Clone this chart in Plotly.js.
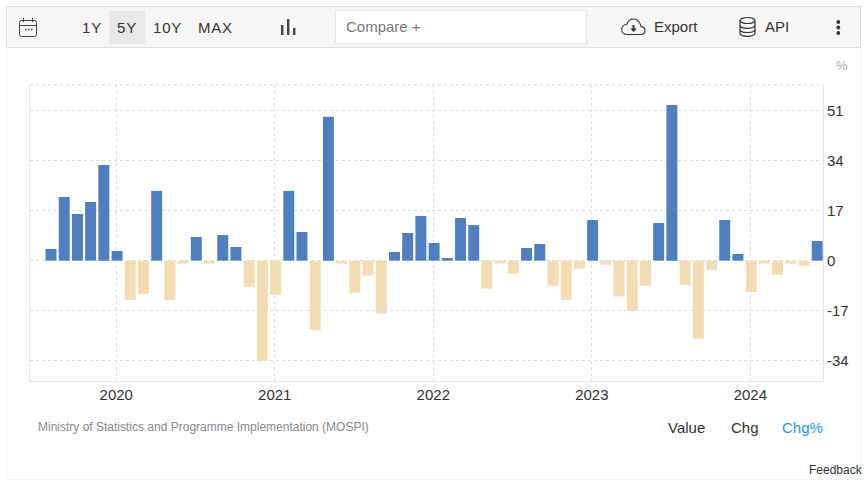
<!DOCTYPE html>
<html>
<head>
<meta charset="utf-8">
<script src="https://cdn.plot.ly/plotly-3.0.1.min.js"></script>
<style>
html,body{margin:0;padding:0;background:#fff;width:864px;height:486px;overflow:hidden;font-family:"Liberation Sans",Arial,sans-serif}
#chart{position:absolute;left:0;top:0;width:864px;height:486px}
.frame{position:absolute;left:6px;top:47px;width:853px;height:432px;border:1px solid #f2f2f2;border-top:none}
.bar{position:absolute;left:6px;top:6px;width:853px;height:40px;background:#f6f6f6;border:1px solid #dedede}
.t{position:absolute;white-space:nowrap;font-size:15px;line-height:18px;color:#333}
.hl{position:absolute;left:109px;top:11px;width:36px;height:33px;background:#e8e8e8}
.inp{position:absolute;left:335px;top:10px;width:250px;height:32px;background:#fff;border:1px solid #e6e6e6}
svg.i{position:absolute;overflow:visible}
</style>
</head>
<body>
<div class="frame"></div>
<div id="chart"></div>
<div class="bar"></div>
<div class="hl"></div>
<div class="inp"></div>
<svg class="i" style="left:19px;top:17px" width="18" height="20" fill="none" stroke="#444" stroke-width="1"><rect x="0.5" y="3.5" width="17" height="16" rx="2"/><path d="M0.5 8.5H17.5M4.5 1V5M13.5 1V5"/><path d="M6 12.5h1.5M9 12.5h1.5M12 12.5h1.5" stroke-width="1.5"/></svg>
<div class="t" style="left:82px;top:19px;letter-spacing:.8px">1Y</div>
<div class="t" style="left:117px;top:19px;letter-spacing:.8px">5Y</div>
<div class="t" style="left:153px;top:19px;letter-spacing:.8px">10Y</div>
<div class="t" style="left:198px;top:19px;letter-spacing:.8px">MAX</div>
<svg class="i" style="left:281px;top:19px" width="15" height="16" fill="#444"><rect x="0" y="6" width="2.4" height="10"/><rect x="6" y="0" width="2.4" height="16"/><rect x="12" y="9" width="2.4" height="7"/></svg>
<div class="t" style="left:346px;top:18px;color:#777">Compare +</div>
<svg class="i" style="left:621px;top:18px" width="25" height="18" fill="none" stroke="#333" stroke-width="1.1"><path d="M6 16.5H19.5C22.5 16.5 24 14.5 24 12.5C24 10.3 22.3 8.8 20 8.6C19.3 4 16 1 12.5 1C9 1 6.7 3.2 5.9 6.3C3 6.8 .7 8.9 .7 11.6C.7 14.5 3 16.5 6 16.5Z"/><path d="M12.5 7V12.5" stroke-width="2"/><path d="M9.3 10.5H15.7L12.5 14Z" fill="#333" stroke="none"/></svg>
<div class="t" style="left:654px;top:18px">Export</div>
<svg class="i" style="left:739px;top:17px" width="17" height="20" fill="none" stroke="#333" stroke-width="1.2"><ellipse cx="8.5" cy="3.5" rx="7.5" ry="3"/><path d="M1 3.5V16C1 18 4.5 19.3 8.5 19.3S16 18 16 16V3.5M1 8C1 10 4.5 11.3 8.5 11.3S16 10 16 8M1 12.2C1 14.2 4.5 15.5 8.5 15.5S16 14.2 16 12.2"/></svg>
<div class="t" style="left:765px;top:18px">API</div>
<svg class="i" style="left:836px;top:20px" width="5" height="15" fill="#333"><circle cx="2.3" cy="2" r="1.9"/><circle cx="2.3" cy="7.5" r="1.9"/><circle cx="2.3" cy="13" r="1.9"/></svg>
<script>
const months = ["2019-08","2019-09","2019-10","2019-11","2019-12",
  "2020-01","2020-02","2020-03","2020-04","2020-05","2020-06","2020-07","2020-08","2020-09","2020-10","2020-11","2020-12",
  "2021-01","2021-02","2021-03","2021-04","2021-05","2021-06","2021-07","2021-08","2021-09","2021-10","2021-11","2021-12",
  "2022-01","2022-02","2022-03","2022-04","2022-05","2022-06","2022-07","2022-08","2022-09","2022-10","2022-11","2022-12",
  "2023-01","2023-02","2023-03","2023-04","2023-05","2023-06","2023-07","2023-08","2023-09","2023-10","2023-11","2023-12",
  "2024-01","2024-02","2024-03","2024-04","2024-05","2024-06"];
const chgPct = [3.97,21.65,15.87,19.95,32.5,
  3.3,-13.4,-11.3,23.7,-13.4,-1.0,8.05,-1.0,8.7,4.65,-8.85,-34.0,
  -11.6,23.7,9.75,-23.5,48.9,-1.0,-10.9,-5.1,-18.0,2.95,9.4,15.2,
  6.0,0.9,14.5,12.1,-9.5,-1.0,-4.4,4.3,5.67,-8.5,-13.3,-2.7,
  13.8,-1.36,-12.2,-17.0,-8.5,12.8,52.9,-8.2,-26.5,-3.06,13.8,2.27,
  -10.66,-1.0,-4.76,-1.0,-1.7,6.7];
const yearTicks = ["2020-01","2021-01","2022-01","2023-01","2024-01"];
const yearLabels = ["2020","2021","2022","2023","2024"];
const yTicks = [51,34,17,0,-17,-34];

const upColor = "#4f7fbe", downColor = "#f3dcb1";
const txt = (x,y,text,size,color,anchor) => ({xref:"paper",yref:"paper",x:x,y:y,text:text,showarrow:false,
  xanchor:anchor||"left",yanchor:"middle",font:{size:size,color:color},align:"left"});
const px = v => (v-30)/793, py = v => (381-v)/296;

Plotly.newPlot("chart",[{
  type:"bar",x:months,y:chgPct,width:0.83,offset:-0.355,
  marker:{color:chgPct.map(v=>v>=0?upColor:downColor),line:{width:0}},
  hoverinfo:"x+y"
}],{
  width:864,height:486,showlegend:false,
  paper_bgcolor:"rgba(0,0,0,0)",plot_bgcolor:"rgba(0,0,0,0)",
  font:{family:'"Liberation Sans",Arial,sans-serif',size:15,color:"#333"},
  margin:{l:30,r:41,t:85,b:105,pad:0},
  xaxis:{type:"category",categoryorder:"array",categoryarray:months,range:[-1.53,58.5],
    tickmode:"array",tickvals:yearTicks,ticktext:yearLabels,ticks:"",
    showgrid:true,gridcolor:"#dcdcdc",griddash:"dot",gridwidth:1,
    showline:true,linecolor:"#e6e6e6",linewidth:1,zeroline:false,tickfont:{size:15,color:"#333"}},
  yaxis:{side:"right",range:[-40.9,59.7],tickmode:"array",tickvals:yTicks,ticktext:yTicks.map(String),ticks:"",
    showgrid:true,gridcolor:"#dcdcdc",griddash:"dot",gridwidth:1,
    showline:true,mirror:true,linecolor:"#e6e6e6",linewidth:1,zeroline:false,tickfont:{size:15,color:"#333"}},
  shapes:[{type:"line",xref:"paper",yref:"paper",x0:0,x1:1,y0:1,y1:1,line:{color:"#dcdcdc",width:1,dash:"dot"}}],
  annotations:[
    txt(px(834),py(65),"%",13,"#aaa"),
    txt(px(36),py(427),"Ministry of Statistics and Programme Implementation (MOSPI)",12,"#888"),
    txt(px(666),py(427),"Value",15,"#333"),
    txt(px(729),py(427),"Chg",15,"#333"),
    txt(px(780),py(427),"Chg%",15,"#2196f3"),
    txt(px(807),py(470),"Feedback",12,"#333")
  ],
  bargap:0.17
},{displayModeBar:false,responsive:false});
</script>
</body>
</html>
